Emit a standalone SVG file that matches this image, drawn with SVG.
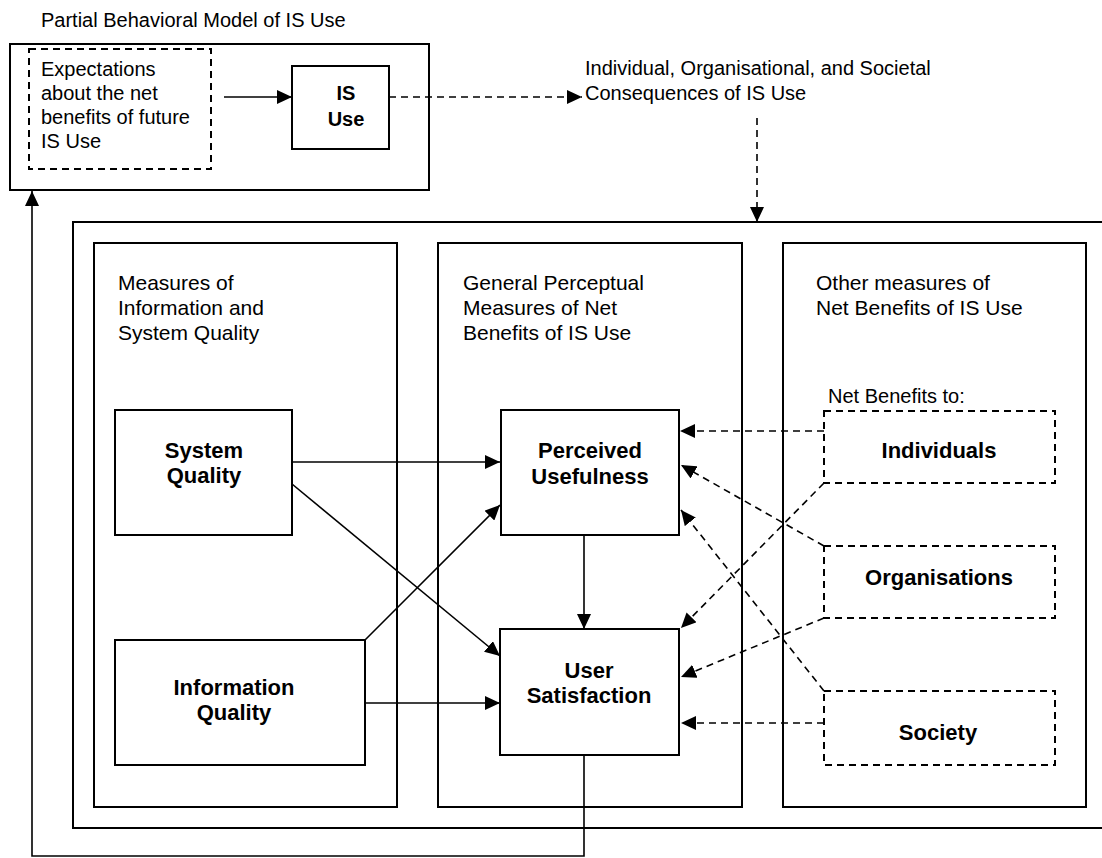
<svg xmlns="http://www.w3.org/2000/svg" width="1102" height="858" viewBox="0 0 1102 858">
<style>
  text { font-family: "Liberation Sans", Arial, sans-serif; fill: #000; }
  .t20 { font-size: 20px; }
  .t21 { font-size: 21px; }
  .b22 { font-size: 22px; font-weight: bold; text-anchor: middle; }
  .b20 { font-size: 20px; font-weight: bold; text-anchor: middle; }
  .box { fill: none; stroke: #000; stroke-width: 2; }
  .dbox { fill: none; stroke: #000; stroke-width: 2; stroke-dasharray: 7 5; }
  .ln { fill: none; stroke: #000; stroke-width: 1.6; }
  .dln { fill: none; stroke: #000; stroke-width: 1.6; stroke-dasharray: 7 5; }
</style>
<defs>
  <marker id="ah" markerUnits="userSpaceOnUse" markerWidth="16" markerHeight="14" refX="15" refY="7" orient="auto">
    <path d="M0,0 L15,7 L0,14 Z" fill="#000"/>
  </marker>
</defs>
<rect width="1102" height="858" fill="#fff"/>

<g id="behavioral-model">
  <text class="t20" x="41" y="27">Partial Behavioral Model of IS Use</text>
  <rect class="box" x="10" y="44" width="419" height="146"/>
</g>
<g id="expectations">
  <rect class="dbox" x="29" y="49" width="182" height="120"/>
  <text class="t20" x="41" y="76">Expectations</text>
  <text class="t20" x="41" y="100">about the net</text>
  <text class="t20" x="41" y="124">benefits of future</text>
  <text class="t20" x="41" y="148">IS Use</text>
</g>
<g id="is-use">
  <rect class="box" x="292" y="66" width="97" height="83"/>
  <text class="b20" x="346" y="100">IS</text>
  <text class="b20" x="346" y="126">Use</text>
</g>
<g id="consequences">
  <text class="t20" x="585" y="75">Individual, Organisational, and Societal</text>
  <text class="t20" x="585" y="100">Consequences of IS Use</text>
</g>

<g id="impact-box">
  <rect class="box" x="73" y="222" width="1040" height="606"/>
</g>
<g id="col-quality">
  <rect class="box" x="94" y="243" width="303" height="564"/>
  <text class="t21" x="118" y="290">Measures of</text>
  <text class="t21" x="118" y="315">Information and</text>
  <text class="t21" x="118" y="340">System Quality</text>
</g>
<g id="col-perceptual">
  <rect class="box" x="438" y="243" width="304" height="564"/>
  <text class="t21" x="463" y="290">General Perceptual</text>
  <text class="t21" x="463" y="315">Measures of Net</text>
  <text class="t21" x="463" y="340">Benefits of IS Use</text>
</g>
<g id="col-other">
  <rect class="box" x="783" y="243" width="303" height="564"/>
  <text class="t21" x="816" y="290">Other measures of</text>
  <text class="t21" x="816" y="315">Net Benefits of IS Use</text>
  <text class="t20" x="828" y="403">Net Benefits to:</text>
</g>

<g id="system-quality">
  <rect class="box" x="115" y="410" width="177" height="125"/>
  <text class="b22" x="204" y="458">System</text>
  <text class="b22" x="204" y="483">Quality</text>
</g>
<g id="information-quality">
  <rect class="box" x="115" y="640" width="250" height="125"/>
  <text class="b22" x="234" y="695">Information</text>
  <text class="b22" x="234" y="720">Quality</text>
</g>
<g id="perceived-usefulness">
  <rect class="box" x="501" y="410" width="178" height="125"/>
  <text class="b22" x="590" y="458">Perceived</text>
  <text class="b22" x="590" y="484">Usefulness</text>
</g>
<g id="user-satisfaction">
  <rect class="box" x="500" y="629" width="179" height="126"/>
  <text class="b22" x="589" y="678">User</text>
  <text class="b22" x="589" y="703">Satisfaction</text>
</g>
<g id="individuals">
  <rect class="dbox" x="824" y="411" width="231" height="72"/>
  <text class="b22" x="939" y="458">Individuals</text>
</g>
<g id="organisations">
  <rect class="dbox" x="824" y="546" width="231" height="72"/>
  <text class="b22" x="939" y="585">Organisations</text>
</g>
<g id="society">
  <rect class="dbox" x="824" y="691" width="231" height="74"/>
  <text class="b22" x="938" y="740">Society</text>
</g>

<g id="connectors">
  <line class="ln" x1="224" y1="97" x2="292" y2="97" marker-end="url(#ah)"/>
  <line class="dln" x1="389" y1="97" x2="582" y2="97" marker-end="url(#ah)"/>
  <line class="dln" x1="757" y1="118" x2="757" y2="222" marker-end="url(#ah)"/>
  <line class="ln" x1="292" y1="462" x2="500" y2="462" marker-end="url(#ah)"/>
  <line class="ln" x1="292" y1="484" x2="500" y2="656" marker-end="url(#ah)"/>
  <line class="ln" x1="365" y1="640" x2="500" y2="505" marker-end="url(#ah)"/>
  <line class="ln" x1="365" y1="703" x2="500" y2="703" marker-end="url(#ah)"/>
  <line class="ln" x1="584" y1="535" x2="584" y2="629" marker-end="url(#ah)"/>
  <line class="dln" x1="824" y1="431" x2="680" y2="431" marker-end="url(#ah)"/>
  <line class="dln" x1="824" y1="483" x2="681" y2="628" marker-end="url(#ah)"/>
  <line class="dln" x1="824" y1="546" x2="681" y2="465" marker-end="url(#ah)"/>
  <line class="dln" x1="824" y1="618" x2="681" y2="677" marker-end="url(#ah)"/>
  <line class="dln" x1="824" y1="691" x2="681" y2="510" marker-end="url(#ah)"/>
  <line class="dln" x1="824" y1="723" x2="681" y2="723" marker-end="url(#ah)"/>
  <polyline class="ln" points="584,755 584,856 32,856 32,191" marker-end="url(#ah)"/>
</g>
</svg>
